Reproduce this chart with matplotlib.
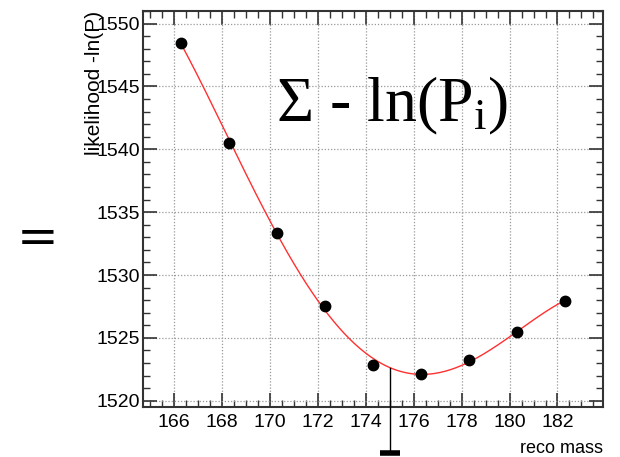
import numpy as np
import matplotlib.pyplot as plt
from matplotlib.ticker import MultipleLocator
import matplotlib.transforms as mtransforms

# likelihood scan over reconstructed top mass
reco_mass = [166.3, 168.3, 170.3, 172.3, 174.3, 176.3, 178.3, 180.3, 182.3]
neg_log_l = [1548.43, 1540.48, 1533.37, 1527.57, 1522.87, 1522.16, 1523.21, 1525.44, 1527.96]
m_best = 175.0

plt.rcParams['font.family'] = ['Liberation Sans', 'DejaVu Sans']
plt.rcParams['mathtext.fontset'] = 'custom'
plt.rcParams['mathtext.rm'] = 'Liberation Serif'
plt.rcParams['mathtext.it'] = 'Liberation Serif'

fig = plt.figure(figsize=(6.2, 4.57), dpi=100)
ax = fig.add_axes([143/620, 50/457, 460/620, 396/457])
ymin, ymax = 1519.5, 1551.0
ax.set_xlim(164.7, 183.9)
ax.set_ylim(ymin, ymax)

# smooth curve through the scan points
coef = np.polyfit(reco_mass, neg_log_l, 4)
xs = np.linspace(reco_mass[0], reco_mass[-1], 300)
ax.plot(xs, np.polyval(coef, xs), color='#ff3030', lw=1.0, zorder=3)
ax.plot(reco_mass, neg_log_l, 'o', color='black', ms=7.5, zorder=4)

# minimum marker hanging below the axis
trans = mtransforms.blended_transform_factory(ax.transData, ax.transAxes)
y_best = (np.polyval(coef, m_best) - ymin) / (ymax - ymin)
ax.plot([m_best, m_best], [y_best, -0.115], color='black', lw=1.0,
        transform=trans, clip_on=False, zorder=5)
ax.plot([m_best], [-0.115], marker='_', ms=15, mew=4, color='black',
        transform=trans, clip_on=False, zorder=5)

ax.xaxis.set_major_locator(MultipleLocator(2))
ax.xaxis.set_minor_locator(MultipleLocator(0.5))
ax.yaxis.set_major_locator(MultipleLocator(5))
ax.yaxis.set_minor_locator(MultipleLocator(1))
ax.tick_params(which='both', direction='in', top=True, right=True, color='#333333')
ax.tick_params(which='major', length=10, width=1.2)
ax.tick_params(which='minor', length=5, width=1.0)
ax.tick_params(axis='x', labelsize=14, pad=5)
ax.tick_params(axis='y', labelsize=14, pad=2)
for s in ax.spines.values():
    s.set_color('#333333')
    s.set_linewidth(1.5)

ax.grid(True, which='major', color='#999999', ls=(0, (1, 1.5)), lw=0.9)

ax.set_xlabel('reco mass', fontsize=13, loc='right', va='baseline')
ax.xaxis.set_label_coords(1.0, -0.116)
ax.set_ylabel('likelihood -ln(P)', fontsize=15, loc='top')
ax.yaxis.set_label_coords(-0.085, 1.0)

ax.text(0.29, 0.72, r'$\mathrm{\Sigma}$ - ln(P$_\mathrm{i}$)', transform=ax.transAxes,
        fontsize=46, family='Liberation Serif', va='baseline', ha='left', zorder=6)
fig.text(38/620, 1 - 239/457, '=', fontsize=36, family='DejaVu Sans',
         rotation=0, ha='center', va='center')

fig.savefig('out.png', dpi=100)
